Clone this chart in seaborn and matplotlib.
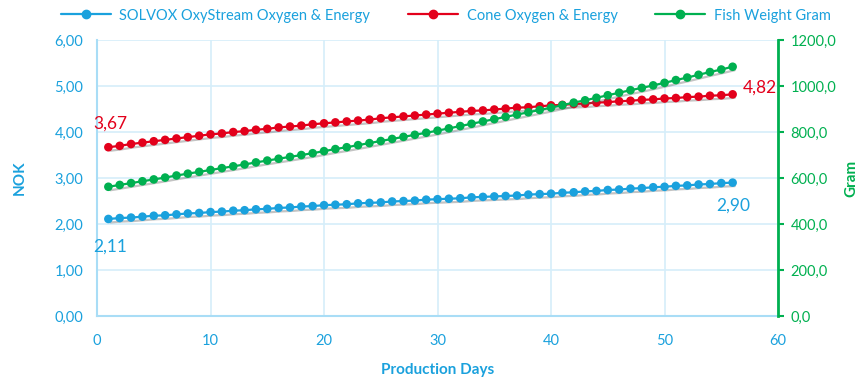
import matplotlib
matplotlib.use("Agg")
import matplotlib.pyplot as plt
import matplotlib.patheffects as pe
from matplotlib.lines import Line2D
from matplotlib.ticker import FuncFormatter, MultipleLocator
import seaborn as sns
import pandas as pd

days = list(range(1, 57))

solvox_nok = [
    2.11, 2.13, 2.14, 2.16, 2.18, 2.19, 2.21, 2.23, 2.24, 2.26,
    2.27, 2.29, 2.30, 2.32, 2.33, 2.35, 2.36, 2.38, 2.39, 2.41,
    2.42, 2.43, 2.45, 2.46, 2.47, 2.49, 2.50, 2.51, 2.53, 2.54,
    2.55, 2.56, 2.58, 2.59, 2.60, 2.61, 2.62, 2.64, 2.65, 2.66,
    2.68, 2.69, 2.71, 2.72, 2.74, 2.75, 2.77, 2.78, 2.80, 2.81,
    2.83, 2.84, 2.86, 2.87, 2.89, 2.90,
]

cone_nok = [
    3.67, 3.70, 3.74, 3.77, 3.80, 3.83, 3.86, 3.89, 3.92, 3.95,
    3.97, 4.00, 4.02, 4.05, 4.07, 4.10, 4.12, 4.14, 4.17, 4.19,
    4.21, 4.23, 4.25, 4.27, 4.30, 4.32, 4.34, 4.36, 4.38, 4.40,
    4.42, 4.44, 4.46, 4.47, 4.49, 4.51, 4.53, 4.54, 4.56, 4.58,
    4.59, 4.61, 4.62, 4.64, 4.65, 4.67, 4.68, 4.70, 4.71, 4.73,
    4.74, 4.76, 4.77, 4.79, 4.80, 4.82,
]

fish_gram = [
    562, 570, 578, 586, 594, 602, 611, 619, 627, 635,
    643, 651, 659, 668, 676, 684, 692, 700, 708, 717,
    726, 734, 743, 752, 761, 770, 779, 788, 797, 806,
    816, 826, 836, 846, 856, 866, 876, 886, 896, 906,
    917, 928, 938, 949, 960, 971, 982, 992, 1003, 1014,
    1026, 1037, 1049, 1061, 1072, 1084,
]

series_names = [
    "SOLVOX OxyStream Oxygen & Energy",
    "Cone Oxygen & Energy",
    "Fish Weight Gram",
]

BLUE = "#1AA1DD"
RED = "#E3001B"
GREEN = "#00B050"
GRID = "#D5EEFA"
SPINE = "#A9DDF6"

sns.set_theme(style="white")
plt.rcParams["font.family"] = ["Lato", "DejaVu Sans"]

df = pd.DataFrame({
    "day": days,
    "solvox": solvox_nok,
    "cone": cone_nok,
    "fish": fish_gram,
})

fig, ax = plt.subplots(figsize=(8.64, 3.78), dpi=100)
fig.subplots_adjust(left=0.1123, right=0.9005, top=0.894, bottom=0.164)
ax2 = ax.twinx()

shadow = [pe.SimpleLineShadow(offset=(1.5, -2.5), shadow_color="#555555", alpha=0.35),
          pe.Normal()]

line_kw = dict(marker="o", markersize=6.2, markeredgewidth=0, linewidth=1.6)
sns.lineplot(data=df, x="day", y="solvox", ax=ax, color=BLUE, **line_kw)
sns.lineplot(data=df, x="day", y="cone", ax=ax, color=RED, **line_kw)
sns.lineplot(data=df, x="day", y="fish", ax=ax2, color=GREEN, **line_kw)
for ln in ax.get_lines() + ax2.get_lines():
    ln.set_path_effects(shadow)
    ln.set_clip_on(False)

# left axis (NOK)
ax.set_xlim(0, 60)
ax.set_ylim(0, 6)
ax.xaxis.set_major_locator(MultipleLocator(10))
ax.yaxis.set_major_locator(MultipleLocator(1))
ax.yaxis.set_major_formatter(FuncFormatter(lambda v, p: f"{v:.2f}".replace(".", ",")))
ax.grid(True, color=GRID, linewidth=1.2)
ax.set_axisbelow(True)
ax.tick_params(axis="both", length=0, labelsize=10.5, labelcolor=BLUE)
ax.tick_params(axis="x", pad=13)
ax.tick_params(axis="y", pad=10)
for s in ["top", "right"]:
    ax.spines[s].set_visible(False)
for s in ["left", "bottom"]:
    ax.spines[s].set_color(SPINE)
    ax.spines[s].set_linewidth(1.5)
ax.set_xlabel("Production Days", color=BLUE, fontsize=11, fontweight="bold", labelpad=11)
ax.set_ylabel("NOK", color=BLUE, fontsize=11, fontweight="bold", labelpad=20)

# right axis (Gram)
ax2.set_ylim(0, 1200)
ax2.yaxis.set_major_locator(MultipleLocator(200))
ax2.yaxis.set_major_formatter(FuncFormatter(lambda v, p: f"{v:.1f}".replace(".", ",")))
ax2.tick_params(axis="y", length=4, width=1.5, color=GREEN, labelsize=10.5,
                labelcolor=GREEN, pad=5)
for s in ["top", "left", "bottom"]:
    ax2.spines[s].set_visible(False)
ax2.spines["right"].set_color(GREEN)
ax2.spines["right"].set_linewidth(2)
ax2.set_ylabel("Gram", color=GREEN, fontsize=11, fontweight="bold", labelpad=6)
ax2.grid(False)

# value labels at the ends of the NOK series
fmt = lambda v: f"{v:.2f}".replace(".", ",")
ax.annotate(fmt(cone_nok[0]), (days[0], cone_nok[0]), xytext=(-11, 11),
            textcoords="offset points", color=RED, fontsize=12.5, ha="left", va="bottom")
ax.annotate(fmt(cone_nok[-1]), (days[-1], cone_nok[-1]), xytext=(7, 5),
            textcoords="offset points", color=RED, fontsize=12.5, ha="left", va="center")
ax.annotate(fmt(solvox_nok[0]), (days[0], solvox_nok[0]), xytext=(-11, -14),
            textcoords="offset points", color=BLUE, fontsize=12.5, ha="left", va="top")
ax.annotate(fmt(solvox_nok[-1]), (days[-1], solvox_nok[-1]), xytext=(-12, -11),
            textcoords="offset points", color=BLUE, fontsize=12.5, ha="left", va="top")

handles = [Line2D([], [], color=c, marker="o", markersize=6, linewidth=1.6)
           for c in (BLUE, RED, GREEN)]
leg = fig.legend(handles, series_names, loc="upper center", bbox_to_anchor=(0.516, 1.012),
                 ncol=3, frameon=False, fontsize=10.5, handlelength=3.4,
                 columnspacing=2.6, handletextpad=0.6)
for t in leg.get_texts():
    t.set_color(BLUE)

fig.savefig("out.png", dpi=100)
